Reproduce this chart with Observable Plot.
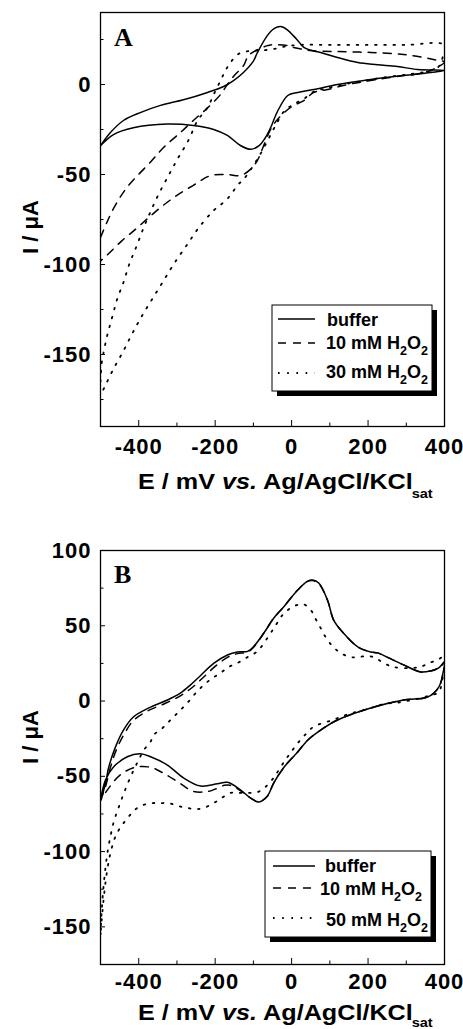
<!DOCTYPE html>
<html><head><meta charset="utf-8">
<script src="https://cdn.jsdelivr.net/npm/d3@7"></script>
<script src="https://cdn.jsdelivr.net/npm/@observablehq/plot@0.6"></script>
<style>
html,body{margin:0;padding:0;background:#fff;}
#chart svg{display:block;}
</style></head><body><div id="chart"></div>
<script>
// ---- tick values ----
const xTicks = [-400, -200, 0, 200, 400];
const xMinor = [-300, -100, 100, 300];
const yTicksA = [0, -50, -100, -150];
const yMinorA = [25, -25, -75, -125, -175];
const yTicksB = [100, 50, 0, -50, -100, -150];
const yMinorB = [75, 25, -25, -75, -125];

// ---- legend labels ----
const legendA = ["buffer", "10 mM H2O2", "30 mM H2O2"];
const legendB = ["buffer", "10 mM H2O2", "50 mM H2O2"];

// ---- Panel A : buffer ----
const A_buffer_E = [-500,-474,-440,-396,-343,-283,-220,-178,-152,-126,-100,-90,-64,-46,-29,-12,5,16,32,50,76,120,173,225,277,330,400,
  364,293,207,120,58,16,-10,-37,-55,-70,-85,-107,-134,-168,-204,-257,-325,-414,-466,-500];
const A_buffer_I = [-34,-26.7,-20,-15.6,-11.6,-8.5,-4.4,-1.1,2.2,6.7,13,17.5,27,31,32.2,30.5,27,24.5,20.6,19,17.8,15,12.2,11,10,8.3,7.8,
  6.7,5,2.8,0,-2.8,-4.4,-6.1,-15,-24,-30,-34,-36,-33.9,-28.3,-25,-22.8,-22,-24,-27.8,-34];
// ---- Panel A : 10 mM H2O2 ----
const A_h10_E = [-500,-482,-461,-430,-369,-335,-291,-257,-220,-186,-168,-150,-126,-113,-89,-63,-55,-10,5,50,120,207,293,346,380,400,
  385,360,320,293,207,147,94,58,32,5,-10,-37,-55,-75,-89,-107,-134,-168,-212,-257,-300,-335,-369,-406,-445,-482,-500];
const A_h10_I = [-85,-76,-67,-57,-43,-35,-26.7,-20,-13,-5.6,0,5,10.4,16,19.4,21.6,22,21.6,20.6,18.9,18.3,17.8,16.7,15,13.5,12.5,
  10,7.5,5.5,5,2.2,0,-2.8,-4.4,-8.9,-11.7,-13.9,-19.4,-25,-35,-42,-47,-50.6,-50,-50.6,-56,-61.6,-67,-73,-80,-87,-94.6,-98];
// ---- Panel A : 30 mM H2O2 ----
const A_h30_E = [-500,-497,-492,-482,-469,-456,-440,-425,-406,-388,-369,-348,-322,-299,-270,-246,-220,-204,-186,-173,-160,-139,-113,-89,-55,-20,20,100,200,300,400,
  395,385,360,300,241,200,147,94,58,32,5,-20,-40,-60,-80,-100,-126,-142,-160,-181,-204,-243,-275,-306,-335,-364,-390,-416,-440,-466,-487,-498];
const A_h30_I = [-165,-155,-149,-139,-129,-119,-110,-100,-90,-80,-70.6,-61,-50.6,-41.6,-31,-20,-12.8,-5.6,2.2,7.8,12.2,17,18.5,18.9,19.4,21,22,22,22,22,22,
  15,10,7.5,5.5,3.9,2.5,0.5,-2,-4,-8,-11,-15,-22,-30,-38,-45,-52.8,-56,-61.6,-66,-70,-79.6,-89.5,-99,-109,-119,-128,-138,-148,-158,-167,-172];

// ---- Panel B : buffer ----
const B_buffer_E = [-500,-487,-479,-461,-440,-414,-369,-325,-291,-265,-238,-204,-168,-142,-115,-100,-73,-47,-21,16,42,55,71,94,110,136,173,207,225,251,293,338,364,385,400,
  396,385,356,293,207,120,76,42,16,-3,-20,-47,-63,-86,-107,-134,-168,-194,-238,-283,-325,-369,-396,-430,-466,-487,-500];
const B_buffer_I = [-66,-55,-44.5,-30.6,-19.3,-10.6,-4,0.7,5.3,10.6,17,25,30.6,32.6,33,36,45,55,62.5,73.8,79.7,80.4,78.4,67,53.8,45,36,32.6,32,29,24,19.3,20,22,26,
  18.6,9.3,2.7,0.7,-4.6,-12.6,-19.3,-26,-33.8,-39,-44,-54.5,-63,-67,-64.5,-59,-54,-55,-56.5,-51,-42.5,-37,-35,-37,-43.8,-52.5,-66];
// ---- Panel B : 10 mM H2O2 ----
const B_h10_E = [-500,-487,-475,-458,-436,-414,-380,-330,-291,-260,-230,-200,-168,-142,-115,-100,-73,-47,-21,16,42,55,71,94,110,136,173,207,225,251,293,338,364,385,400,
  396,385,356,293,207,120,76,42,16,-3,-20,-47,-63,-86,-107,-134,-160,-176,-200,-217,-257,-296,-335,-369,-409,-448,-479,-500];
const B_h10_I = [-66,-57,-45,-32,-21,-13,-7,-1.5,3.5,9,16,23,29,31.5,32.5,35.5,45,55,62.5,73.8,79.5,80,78,67,53.8,45,36,32.6,32,29,24,19.3,20,22,25,
  18,9,2.7,0.7,-4.6,-12.6,-19.3,-26,-33.8,-39,-44,-54.5,-63,-67,-64.5,-59.5,-56,-56,-58.5,-60,-60,-54,-48,-44,-44,-49,-58,-66];
// ---- Panel B : 50 mM H2O2 ----
const B_h50_E = [-500,-497,-493,-488,-482,-474,-465,-453,-440,-425,-404,-385,-369,-361,-338,-317,-296,-273,-251,-230,-207,-186,-165,-142,-115,-90,-63,-40,-21,3,29,50,63,76,89,107,128,155,176,199,220,241,267,312,340,359,382,400,
  398,394,385,356,286,241,199,149,107,58,37,16,-3,-16,-34,-47,-68,-89,-113,-139,-160,-181,-204,-230,-251,-273,-296,-322,-343,-364,-388,-409,-430,-448,-461,-474,-484,-492,-500];
const B_h50_I = [-155,-140,-126,-113,-101,-90,-80,-71,-62,-52.5,-41,-32,-27,-22.6,-18,-12.6,-7.3,-1.3,5.3,10.6,15.3,18.6,22.6,25.2,29.2,33,42,51,58,62.5,64.5,60.5,54.5,48.5,42.5,36.5,31.9,29.2,29.2,30,28.6,25.2,22.6,21.9,23,25.2,27.2,30,
  20,14,6,3.3,-0.7,-2,-5.3,-8.6,-12.6,-17,-22,-28,-34.5,-39,-46,-51,-57,-60.5,-61,-61,-61,-64,-67.8,-71,-71.8,-71,-69.8,-67.8,-67.8,-67.8,-69,-72,-78,-84,-90,-101,-115,-132,-155];

const rows = (E, I) => E.map((e, i) => ({E: e, I: I[i]}));
const font = "'Liberation Sans', Arial, Helvetica, sans-serif";
const serif = "'Liberation Serif', 'Times New Roman', serif";

function panel(cfg) {
  const lineOpt = {x: "E", y: "I", stroke: "#000", curve: "catmull-rom", clip: true};
  const svg = Plot.plot({
    width: 463,
    height: cfg.height,
    marginLeft: 100, marginRight: 19, marginTop: cfg.mt, marginBottom: cfg.mb,
    style: {fontFamily: font, fontWeight: "bold", fontSize: "22px", background: "#fff", overflow: "visible", color: "#000"},
    x: {domain: [-500, 400], label: null},
    y: {domain: cfg.yDomain, label: null},
    marks: [
      Plot.line(rows(cfg.s1[0], cfg.s1[1]), {...lineOpt, strokeWidth: 1.5}),
      Plot.line(rows(cfg.s2[0], cfg.s2[1]), {...lineOpt, strokeWidth: 1.5, strokeDasharray: "8,7"}),
      Plot.line(rows(cfg.s3[0], cfg.s3[1]), {...lineOpt, strokeWidth: 1.8, strokeDasharray: "1.6,7.6"}),
      Plot.axisX({ticks: xTicks, tickSize: 0, tickPadding: cfg.xPad, tickFormat: d => String(d), label: null, fontSize: 22, fontWeight: "bold"}),
      Plot.axisX({ticks: xTicks, tickSize: -6, tickFormat: () => "", label: null}),
      Plot.axisX({ticks: xMinor, tickSize: -3.5, tickFormat: () => "", label: null}),
      Plot.axisY({ticks: cfg.yTicks, tickSize: 0, tickPadding: 9, tickFormat: d => String(d), label: null, fontSize: 22, fontWeight: "bold"}),
      Plot.axisY({ticks: cfg.yTicks, tickSize: -5, tickFormat: () => "", label: null}),
      Plot.axisY({ticks: cfg.yMinor, tickSize: -3.5, tickFormat: () => "", label: null}),
      Plot.frame({stroke: "#000", strokeWidth: 1.3})
    ]
  });
  const s = d3.select(svg);
  // tick-label font, slightly widened like the original
  s.selectAll('g[aria-label$="tick label"]').style("font-size", "22px").style("font-weight", "bold")
    .style("font-family", font).style("letter-spacing", "1px");
  // panel letter
  s.append("text").attr("x", 114).attr("y", cfg.letterY).attr("font-family", serif).attr("text-anchor", "start")
    .attr("font-weight", "bold").attr("font-size", 26).attr("fill", "#000").text(cfg.letter);
  // y label
  s.append("text").attr("transform", `translate(38,${cfg.yLabelY}) rotate(-90)`)
    .attr("text-anchor", "middle").attr("font-family", font).attr("font-weight", "bold")
    .attr("font-size", 22).attr("fill", "#000").text("I / \u03bcA");
  // x label
  const xl = s.append("text").attr("transform", `translate(138,${cfg.xLabelY}) scale(1.12,1)`)
    .attr("font-family", font).attr("text-anchor", "start")
    .attr("font-weight", "bold").attr("font-size", 22.5).attr("fill", "#000");
  xl.append("tspan").text("E / mV ");
  xl.append("tspan").attr("font-style", "italic").text("vs.");
  xl.append("tspan").text(" Ag/AgCl/KCl");
  xl.append("tspan").attr("font-size", 13).attr("dx", -1).attr("dy", cfg.subDy).text("sat");
  // legend
  const L = cfg.legend;
  const g = s.append("g").attr("font-family", font).attr("font-weight", "bold").attr("font-size", 18).attr("text-anchor", "start");
  g.append("rect").attr("x", L.x + 5).attr("y", L.y + 5).attr("width", L.w).attr("height", L.h).attr("fill", "#000");
  g.append("rect").attr("x", L.x).attr("y", L.y).attr("width", L.w).attr("height", L.h)
    .attr("fill", "#fff").attr("stroke", "#000").attr("stroke-width", 1);
  const dashes = [null, "8,7", "1.6,7.6"];
  L.rows.forEach((r, i) => {
    const ln = g.append("line").attr("x1", L.x + r.lx1).attr("x2", L.x + r.lx2)
      .attr("y1", L.y + r.ly).attr("y2", L.y + r.ly).attr("stroke", "#000")
      .attr("stroke-width", i === 2 ? 1.8 : 1.5);
    if (dashes[i]) ln.attr("stroke-dasharray", dashes[i]);
    const t = g.append("text").attr("x", L.x + r.tx).attr("y", L.y + r.ty).attr("fill", "#000");
    const lab = L.labels[i];
    const m = lab.match(/^(.*H)2O2$/);
    if (m) {
      t.append("tspan").text(m[1]);
      t.append("tspan").attr("font-size", 12.5).attr("dy", 6).text("2");
      t.append("tspan").attr("dy", -6).text("O");
      t.append("tspan").attr("font-size", 12.5).attr("dy", 6).text("2");
    } else t.text(lab);
  });
  return svg;
}

const chart = document.getElementById("chart");
chart.appendChild(panel({
  height: 500, mt: 12, mb: 74, yDomain: [-190, 40], yTicks: yTicksA, yMinor: yMinorA, xPad: 12,
  s1: [A_buffer_E, A_buffer_I], s2: [A_h10_E, A_h10_I], s3: [A_h30_E, A_h30_I],
  letter: "A", letterY: 46, yLabelY: 227, xLabelY: 489, subDy: 9,
  legend: {x: 272, y: 305, w: 160, h: 86, labels: legendA, rows: [
    {lx1: 6, lx2: 43, ly: 14, tx: 55, ty: 21},
    {lx1: 6, lx2: 43, ly: 38, tx: 54, ty: 44},
    {lx1: 6, lx2: 43, ly: 68, tx: 54, ty: 73}]}
}));
chart.appendChild(panel({
  height: 529, mt: 50, mb: 65, yDomain: [-175, 100], yTicks: yTicksB, yMinor: yMinorB, xPad: 9,
  s1: [B_buffer_E, B_buffer_I], s2: [B_h10_E, B_h10_I], s3: [B_h50_E, B_h50_I],
  letter: "B", letterY: 83, yLabelY: 237, xLabelY: 520, subDy: 7,
  legend: {x: 265, y: 351, w: 166, h: 86, labels: legendB, rows: [
    {lx1: 8, lx2: 50, ly: 15, tx: 60, ty: 21},
    {lx1: 8, lx2: 50, ly: 37, tx: 55, ty: 44},
    {lx1: 8, lx2: 50, ly: 67, tx: 61, ty: 75}]}
}));
</script></body></html>
